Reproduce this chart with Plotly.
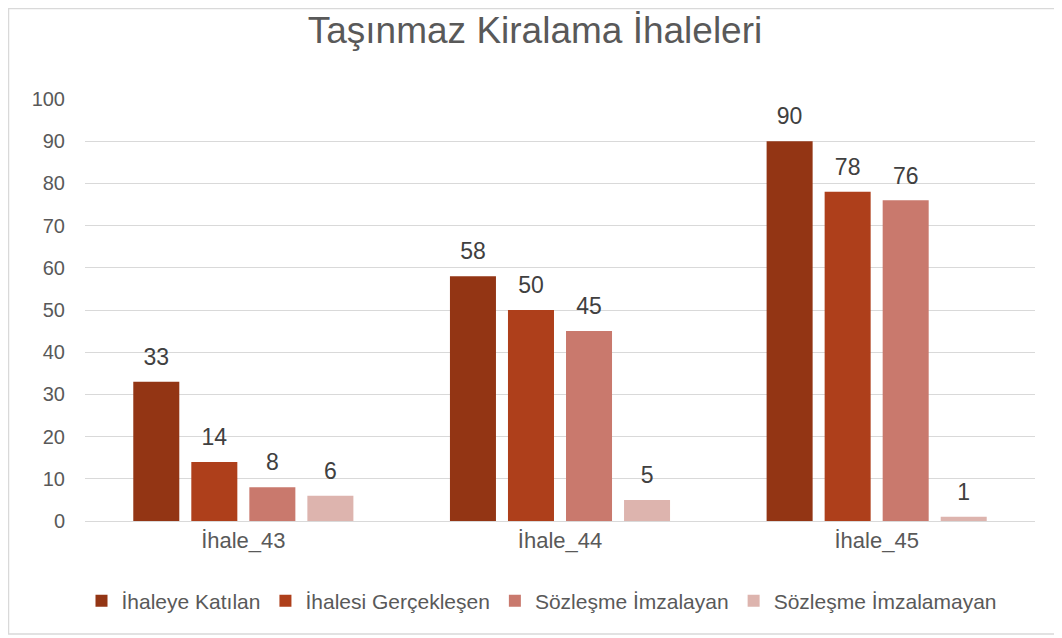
import plotly.graph_objects as go

categories = ["İhale_43", "İhale_44", "İhale_45"]
series_names = ["İhaleye Katılan", "İhalesi Gerçekleşen", "Sözleşme İmzalayan", "Sözleşme İmzalamayan"]
katilan = [33, 58, 90]
gerceklesen = [14, 50, 78]
imzalayan = [8, 45, 76]
imzalamayan = [6, 5, 1]
colors = ["#933514", "#AE3F1B", "#C9796D", "#DDB4AE"]

FONT = "Liberation Sans, Arial"
fig = go.Figure()
all_vals = [katilan, gerceklesen, imzalayan, imzalamayan]
for i, (name, vals, col) in enumerate(zip(series_names, all_vals, colors)):
    fig.add_trace(go.Bar(
        x=categories, y=vals, name=name, offsetgroup=str(i),
        marker=dict(color=col, line=dict(width=0)),
        cliponaxis=False,
    ))
# data labels: text points aligned with the bar groups
for i, vals in enumerate(all_vals):
    fig.add_trace(go.Scatter(
        x=categories, y=vals, mode="markers+text", offsetgroup=str(i),
        text=[str(v) for v in vals], textposition="top center",
        textfont=dict(family=FONT, size=23, color="#404040"),
        marker=dict(size=16, color="rgba(0,0,0,0)"),
        showlegend=False, hoverinfo="skip", cliponaxis=False,
    ))

# page body has an 8px margin, so the figure is drawn 8px in from the window edge
W, H = 1054, 630
ml, mr, mt, mb = 77, 27, 91, 117
pw, ph = W - ml - mr, H - mt - mb

fig.update_layout(
    width=W, height=H,
    margin=dict(l=ml, r=mr, t=mt, b=mb, autoexpand=False),
    paper_bgcolor="white", plot_bgcolor="white",
    barmode="group", bargap=0.267, bargroupgap=0.207,
    scattermode="group", scattergap=0.267,
    font=dict(family=FONT, color="#595959"),
    title=dict(text="Taşınmaz Kiralama İhaleleri", x=0.5, xanchor="center",
               y=1 - 22 / H, yanchor="middle",
               font=dict(size=37, color="#595959")),
    xaxis=dict(showgrid=False, showline=True, linecolor="#D9D9D9", linewidth=1,
               ticks="", tickfont=dict(size=22, color="#595959")),
    yaxis=dict(range=[0, 100], dtick=10, showgrid=True, gridcolor="#D9D9D9",
               gridwidth=1, zeroline=False, showline=False, ticks="outside",
               ticklen=15, tickcolor="rgba(0,0,0,0)",
               tickfont=dict(size=20, color="#595959")),
    legend=dict(orientation="h", x=(534 - ml) / pw, xanchor="center",
                y=-(593 - (H - mb)) / ph,
                yanchor="middle", font=dict(size=21, color="#595959"),
                bgcolor="rgba(0,0,0,0)",
                itemwidth=30, tracegroupgap=0, traceorder="normal"),
    showlegend=True,
)

# outer chart border
fig.add_shape(type="rect", xref="paper", yref="paper",
              x0=(0.5 - ml) / pw, x1=(1047 - ml) / pw,
              y0=-(626 - mt - ph) / ph, y1=1 + (mt - 0.5) / ph,
              line=dict(color="#D9D9D9", width=1.5), layer="below")

fig.write_html("out.html")
